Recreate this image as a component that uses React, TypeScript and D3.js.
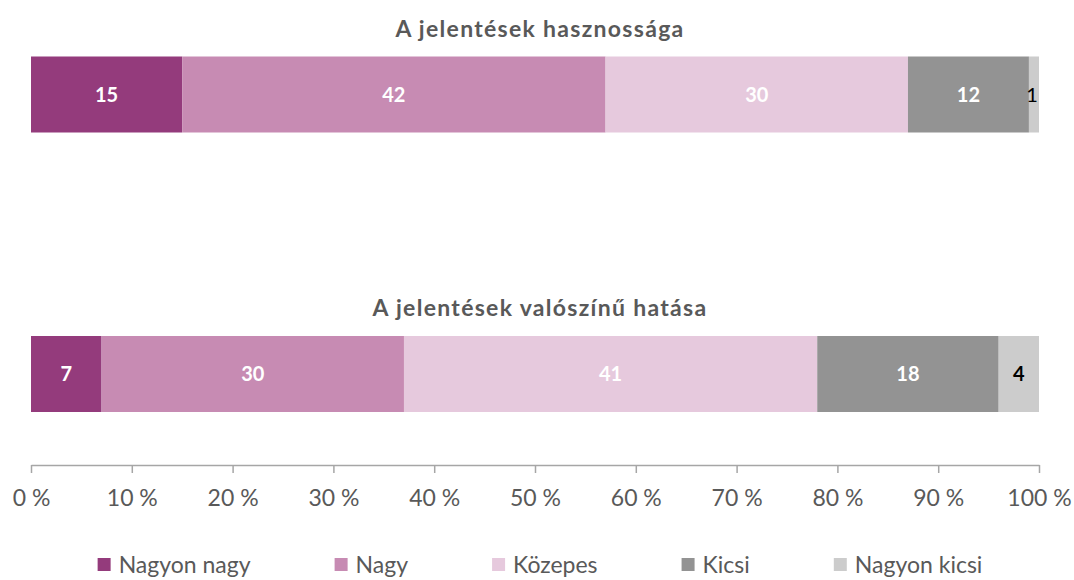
import React, { useEffect, useRef } from 'react';
import * as d3 from 'd3';

const categories = ['Nagyon nagy', 'Nagy', 'Közepes', 'Kicsi', 'Nagyon kicsi'];
const colors = ['#943b7c', '#c78bb3', '#e6c9dd', '#939393', '#cccccc'];
const labelColors = ['#ffffff', '#ffffff', '#ffffff', '#ffffff', '#000000'];
const rows = ['A jelentések hasznossága', 'A jelentések valószínű hatása'];
const hasznossag = [15, 42, 30, 12, 1];
const hatasa = [7, 30, 41, 18, 4];
const tickValues = [0, 10, 20, 30, 40, 50, 60, 70, 80, 90, 100];

const FONT = 'Lato, "Open Sans", sans-serif';

const App = () => {
  const svgRef = useRef<SVGSVGElement>(null);

  useEffect(() => {
    const svg = d3.select(svgRef.current);
    svg.selectAll('*').remove();
    const width = 1074;

    const x = d3.scaleLinear().domain([0, 100]).range([31, 1039]);
    const y = d3.scalePoint<string>().domain(rows).range([94.5, 374]);
    const barH = 76;

    const series = [hasznossag, hatasa];

    rows.forEach((row, r) => {
      const vals = series[r];
      const cy = y(row)!;
      let acc = 0;
      const segs = vals.map((v, i) => {
        const s = { i, v, x0: acc, x1: acc + v };
        acc += v;
        return s;
      });

      // title
      svg.append('text')
        .attr('x', width / 2 + 3)
        .attr('y', cy - 58)
        .attr('text-anchor', 'middle')
        .style('font-family', FONT)
        .style('font-size', '23px')
        .style('letter-spacing', '1.3px')
        .style('font-weight', 'bold')
        .style('fill', '#595959')
        .text(row);

      const g = svg.append('g');
      g.selectAll('rect')
        .data(segs)
        .enter().append('rect')
        .attr('x', d => x(d.x0))
        .attr('width', d => x(d.x1) - x(d.x0))
        .attr('y', cy - barH / 2)
        .attr('height', barH)
        .style('fill', d => colors[d.i]);

      g.selectAll('text')
        .data(segs)
        .enter().append('text')
        .attr('x', d => x((d.x0 + d.x1) / 2) - (d.v < 2 ? 2 : 0))
        .attr('y', cy)
        .attr('dy', '0.36em')
        .attr('text-anchor', 'middle')
        .style('font-family', FONT)
        .style('font-size', '20px')
        .style('font-weight', d => (d.v < 2 ? 'normal' : 'bold'))
        .style('fill', d => (d.v < 2 ? '#000000' : labelColors[d.i]))
        .text(d => d.v);
    });

    // x-axis
    const axis = svg.append('g')
      .attr('transform', 'translate(0, 465)')
      .call(
        d3.axisBottom(x)
          .tickValues(tickValues)
          .tickSize(8)
          .tickSizeOuter(0)
          .tickPadding(17)
          .tickFormat(d => `${d} %`)
      );
    axis.select('.domain').attr('stroke', '#a6a6a6').attr('stroke-width', 1.5);
    axis.selectAll('.tick line').attr('stroke', '#a6a6a6').attr('stroke-width', 1.5);
    axis.selectAll('.tick text')
      .style('font-family', FONT)
      .style('font-size', '23px')
      .style('fill', '#595959');

    // legend
    const legend = svg.append('g');
    const gap = 84;
    const items = categories.map((c, i) => {
      const it = legend.append('g');
      it.append('rect')
        .attr('width', 13)
        .attr('height', 13)
        .attr('y', -15)
        .style('fill', colors[i]);
      const t = it.append('text')
        .attr('x', 21)
        .style('font-family', FONT)
        .style('font-size', '23px')
        .style('fill', '#595959')
        .text(c);
      const w = 21 + (t.node() as SVGTextElement).getComputedTextLength();
      return { it, w };
    });
    const total = d3.sum(items, d => d.w) + gap * (items.length - 1);
    let lx = width / 2 + 3 - total / 2;
    items.forEach(d => {
      d.it.attr('transform', `translate(${lx}, 573)`);
      lx += d.w + gap;
    });
  }, []);

  return (
    <svg ref={svgRef} width={1074} height={580} style={{ position: 'absolute', left: 0, top: 0, background: '#fff' }} />
  );
};

export default App;
